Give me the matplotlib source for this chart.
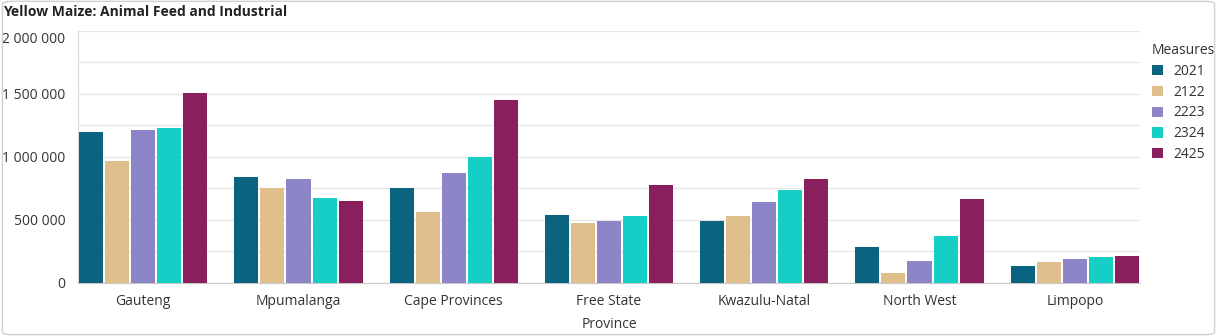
import matplotlib.pyplot as plt
import numpy as np
from matplotlib.patches import FancyBboxPatch
from matplotlib.ticker import FuncFormatter, MultipleLocator

plt.rcParams['font.family'] = ['Open Sans', 'DejaVu Sans']

provinces = ['Gauteng', 'Mpumalanga', 'Cape Provinces', 'Free State',
             'Kwazulu-Natal', 'North West', 'Limpopo']
measures = ['2021', '2122', '2223', '2324', '2425']
v2021 = [1200000, 837000, 754000, 543000, 491000, 285000, 132000]
v2122 = [966000, 752000, 559000, 478000, 530000, 79000, 169000]
v2223 = [1212000, 826000, 871000, 491000, 641000, 172000, 193000]
v2324 = [1225000, 672000, 1002000, 533000, 741000, 369000, 206000]
v2425 = [1508000, 648000, 1450000, 778000, 826000, 662000, 217000]
series = [v2021, v2122, v2223, v2324, v2425]
colors = ['#0a6480', '#e0bf8c', '#8c86c8', '#15cfc6', '#891f5d']
y_max = 2000000

fig = plt.figure(figsize=(12.17, 3.36), dpi=100)
ax = fig.add_axes([78 / 1217, 1 - 283 / 336, (1140 - 78) / 1217, (283 - 30.7) / 336])

x = np.arange(len(provinces))
step = 0.168
width = 0.155
for i, (name, vals) in enumerate(zip(measures, series)):
    ax.bar(x + (i - 2) * step, vals, width, color=colors[i], label=name, zorder=3)

def fmt(v, p):
    # the top label is drawn separately a bit lower
    if v >= y_max:
        return ''
    return f'{int(v):,}'.replace(',', ' ')

ax.set_xlim(-0.42, 6.42)
ax.set_ylim(0, y_max)
ax.yaxis.set_major_locator(MultipleLocator(500000))
ax.yaxis.set_minor_locator(MultipleLocator(250000))
ax.yaxis.set_major_formatter(FuncFormatter(fmt))
ax.grid(True, which='both', axis='y', color='#e6e6e6', linewidth=1, zorder=0)
ax.tick_params(axis='both', which='both', length=0, labelsize=10, colors='#333333')
ax.tick_params(axis='y', pad=9)
ax.tick_params(axis='x', pad=8)
ax.set_xticks(x)
ax.set_xticklabels(provinces)
for s in ['top', 'right']:
    ax.spines[s].set_visible(False)
ax.spines['left'].set_color('#d9d9d9')
ax.spines['bottom'].set_color('#c8c8c8')
ax.set_xlabel('Province', fontsize=10, color='#333333', labelpad=6)

ax.annotate(f'{y_max:,}'.replace(',', ' '), xy=(0, y_max),
            xycoords=('axes fraction', 'data'), xytext=(-9, -6),
            textcoords='offset points', ha='right', va='center',
            fontsize=10, color='#333333')

leg = ax.legend(title='Measures', loc='upper left', bbox_to_anchor=(0.997, 1.012),
                frameon=False, fontsize=10, title_fontsize=10,
                handlelength=0.75, handleheight=0.75, handletextpad=0.8,
                labelspacing=0.42, borderaxespad=0.4, borderpad=0.7)
leg._legend_box.align = 'left'
for t in leg.get_texts():
    t.set_color('#333333')
leg.get_title().set_color('#333333')

fig.text(3 / 1217, 1 - 12 / 336, 'Yellow Maize: Animal Feed and Industrial',
         fontsize=10, fontweight='bold', color='#222222', va='center', ha='left')

fig.patches.append(FancyBboxPatch((0.002, 0.004), 0.996, 0.992,
                                  boxstyle='round,pad=0,rounding_size=0.008',
                                  transform=fig.transFigure, fill=False,
                                  edgecolor='#d0d0d0', linewidth=1))

fig.savefig('out.png', dpi=100, facecolor='white')
